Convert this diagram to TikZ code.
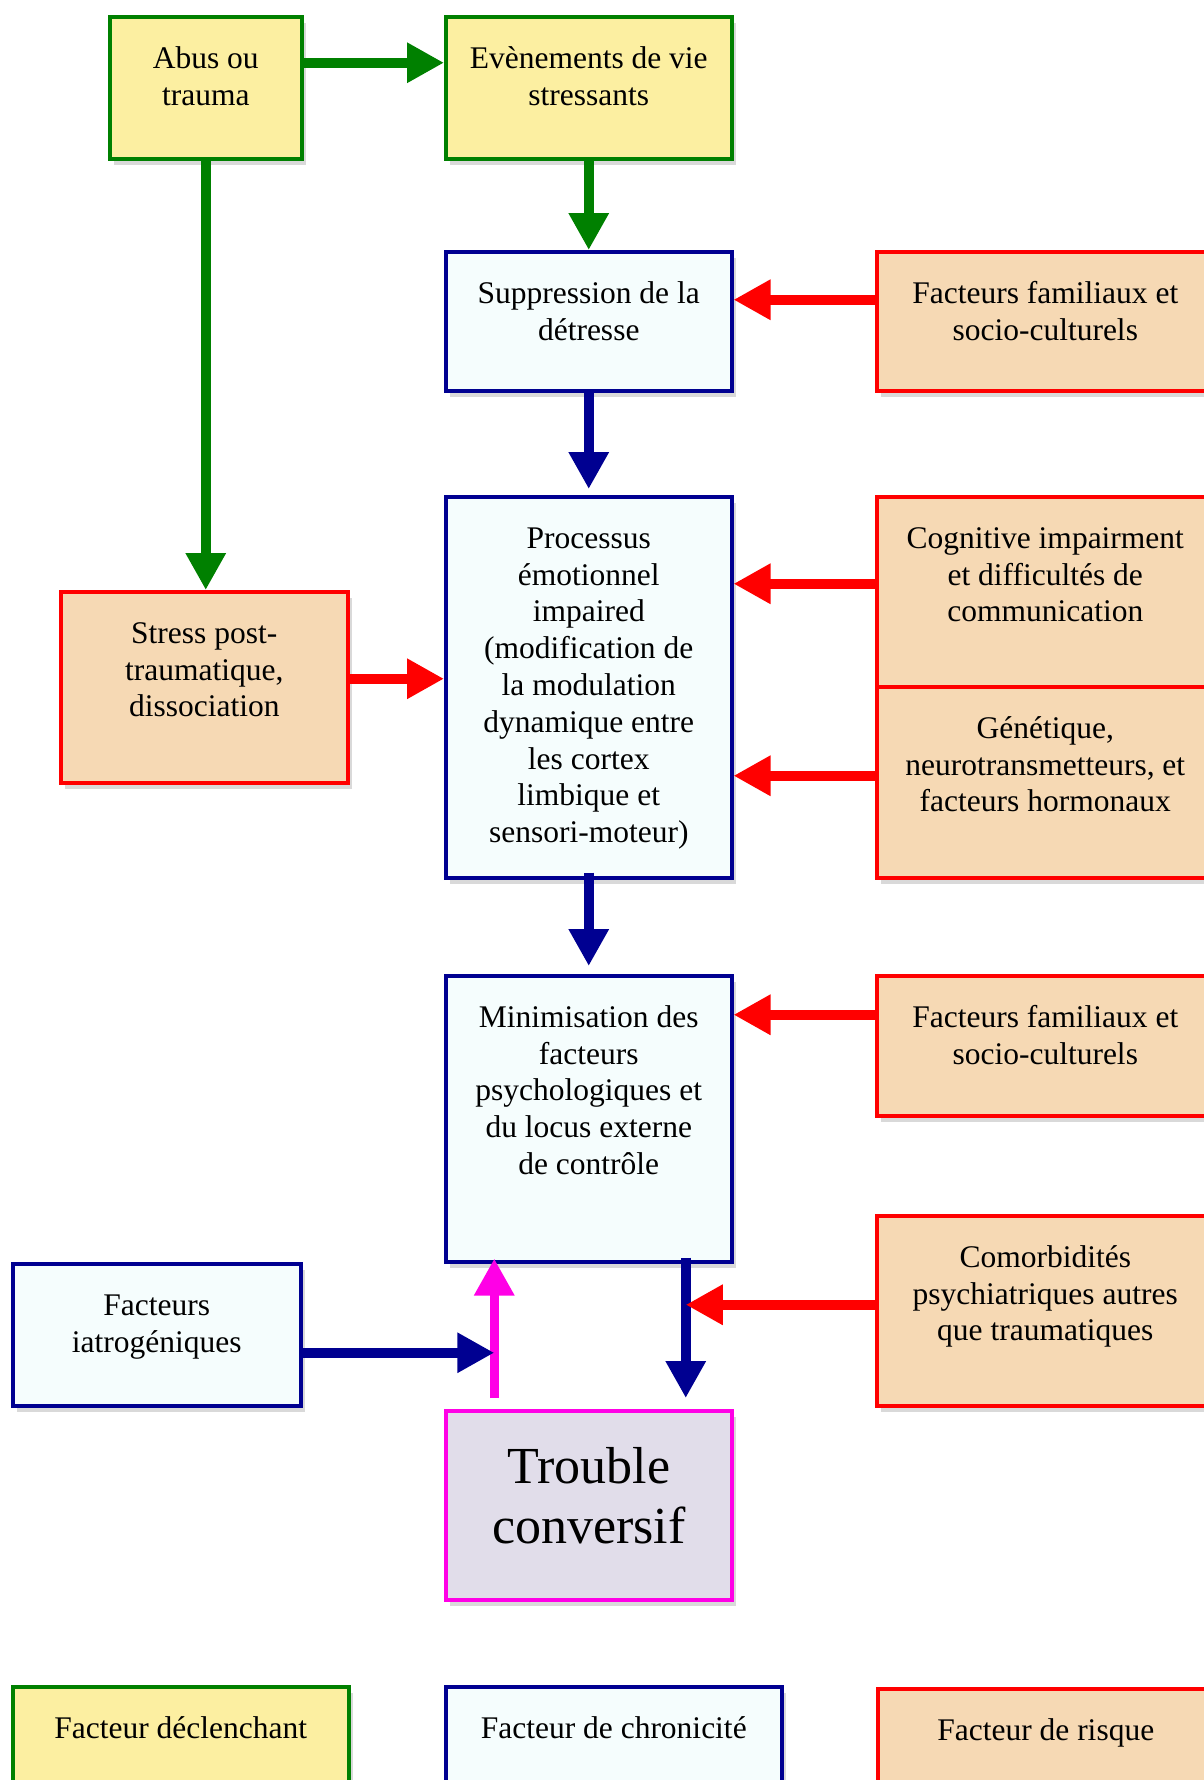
\documentclass[tikz,border=0pt]{standalone}
\usepackage{fontspec}
\setmainfont{Liberation Serif}
\usetikzlibrary{arrows.meta,shadows}

\definecolor{trigfill}{RGB}{252,239,161}
\definecolor{triggreen}{RGB}{0,128,0}
\definecolor{chronfill}{RGB}{245,253,253}
\definecolor{chronblue}{RGB}{0,0,145}
\definecolor{riskfill}{RGB}{246,217,180}
\definecolor{riskred}{RGB}{255,0,0}
\definecolor{outfill}{RGB}{225,221,234}
\definecolor{outpink}{RGB}{255,0,230}

\tikzset{>={Triangle[length=37pt,width=38pt]}}
\tikzset{
  factor/.style={anchor=north west, inner sep=0pt, line width=3.5pt,
    font=\fontsize{31.5}{36.8}\selectfont,
    drop shadow={shadow xshift=4pt, shadow yshift=-6pt, opacity=0.3}},
  trig/.style={factor, draw=triggreen, fill=trigfill},
  chron/.style={factor, draw=chronblue, fill=chronfill},
  risk/.style={factor, draw=riskred, fill=riskfill},
  outcome/.style={factor, draw=outpink, fill=outfill,
    font=\fontsize{52}{60}\selectfont},
  garrow/.style={->, draw=triggreen, line width=9.5pt},
  barrow/.style={->, draw=chronblue, line width=9.5pt},
  rarrow/.style={->, draw=riskred, line width=9.5pt},
  parrow/.style={->, draw=outpink, line width=9.5pt},
}

% width, height, text (top aligned)
\newcommand\facttext[4][25.7pt]{\parbox[c][#3pt][t]{#2pt}{\centering\vspace*{#1}\strut #4\par}}

\begin{document}
\begin{tikzpicture}[x=1pt,y=-1pt]

  \useasboundingbox (0,0) rectangle (1204,1780);
  \clip (0,0) rectangle (1204,1780);

  % declenchants
  \node[trig] (abus) at (108,15) {\facttext{192}{142}{Abus ou\\trauma}};
  \node[trig] (even) at (444,15) {\facttext{286}{142}{Evènements de vie\\stressants}};

  % chronicite
  \node[chron] (supp) at (444,250) {\facttext{286}{139}{Suppression de la\\détresse}};
  \node[chron] (proc) at (444,495) {\facttext{286}{381}{Processus\\émotionnel\\impaired\\(modification de\\la modulation\\dynamique entre\\les cortex\\limbique et\\sensori-moteur)}};
  \node[chron] (mini) at (444,974) {\facttext{286}{286}{Minimisation des\\facteurs\\psychologiques et\\du locus externe\\de contrôle}};
  \node[chron] (iatro) at (11,1262) {\facttext{288}{142}{Facteurs\\iatrogéniques}};

  % risque
  \node[risk] (fam1) at (875,250) {\facttext{337}{139}{Facteurs familiaux et\\socio-culturels}};
  \node[risk] (cogn) at (875,495) {\facttext{337}{190}{Cognitive impairment\\et difficultés de\\communication}};
  \node[risk] (gene) at (875,685) {\facttext{337}{191}{Génétique,\\neurotransmetteurs, et\\facteurs hormonaux}};
  \node[risk] (stress) at (59,590) {\facttext{287}{191}{Stress post-\\traumatique,\\dissociation}};
  \node[risk] (fam2) at (875,974) {\facttext{337}{140}{Facteurs familiaux et\\socio-culturels}};
  \node[risk] (comorb) at (875,1214) {\facttext{337}{190}{Comorbidités\\psychiatriques autres\\que traumatiques}};

  \node[outcome] (trouble) at (444,1409) {\facttext[31pt]{286}{189}{Trouble\\conversif}};

  % legende
  \node[trig] (legtrig) at (11,1685) {\facttext{336}{125}{Facteur déclenchant}};
  \node[chron] (legchron) at (444,1685) {\facttext{336}{125}{Facteur de chronicité}};
  \node[risk] (legrisk) at (876,1687) {\facttext{336}{125}{Facteur de risque}};

  \draw[garrow] ([yshift=25pt]abus.east) -- ([yshift=25pt]abus.east -| even.west); % abus -> even
  \draw[garrow] (even.south) -- (supp.north); % even -> supp
  \draw[garrow] (abus.south) -- (abus.south |- stress.north); % abus -> stress

  \draw[rarrow] ([yshift=21.5pt]fam1.west) -- ([yshift=21.5pt]fam1.west -| supp.east);
  \draw[barrow, shorten >=6pt] (supp.south) -- (proc.north); % supp -> proc
  \draw[rarrow] ([yshift=8pt]cogn.west) -- ([yshift=8pt]cogn.west -| proc.east);
  \draw[rarrow] ([yshift=6.5pt]gene.west) -- ([yshift=6.5pt]gene.west -| proc.east);
  \draw[rarrow] ([yshift=8.5pt]stress.east) -- ([yshift=8.5pt]stress.east -| proc.west);
  \draw[barrow, shorten >=8pt] ([yshift=7pt]proc.south) -- (mini.north); % proc -> mini
  \draw[rarrow] ([yshift=31pt]fam2.west) -- ([yshift=31pt]fam2.west -| mini.east);

  % mini -> trouble
  \coordinate (navtop) at ([xshift=97pt,yshift=6pt]mini.south);
  \coordinate (navbot) at ([xshift=97pt,yshift=11pt]trouble.north);
  \draw[barrow] (navtop) -- (navbot);
  \draw[rarrow] ([yshift=6pt]comorb.west) -- ([yshift=6pt]comorb.west -| navtop);

  % trouble -> mini
  \coordinate (magbot) at ([xshift=-94.5pt,yshift=11pt]trouble.north);
  \coordinate (magtop) at ([xshift=-94.5pt,yshift=5pt]mini.south);
  \draw[parrow] (magbot) -- (magtop);
  \draw[barrow] ([yshift=-18pt]iatro.east) -- ([yshift=-18pt]iatro.east -| magbot);

\end{tikzpicture}
\end{document}
